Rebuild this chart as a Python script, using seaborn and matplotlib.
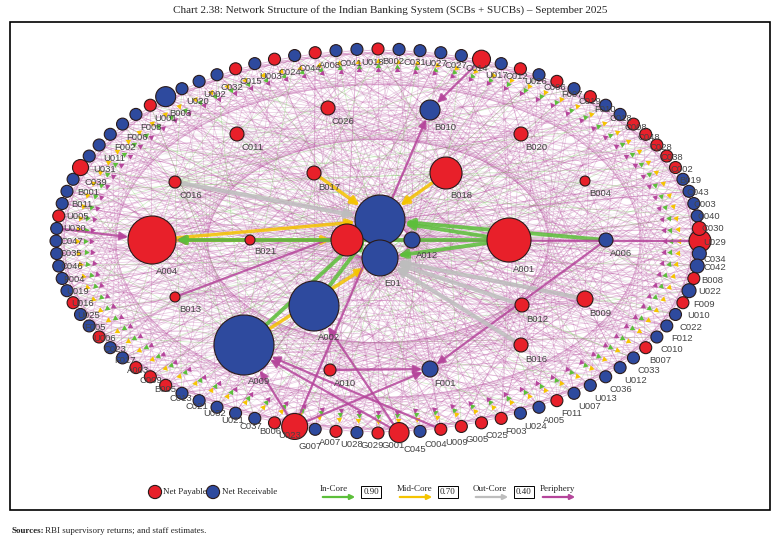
import numpy as np
import pandas as pd
import matplotlib
matplotlib.use("Agg")
import matplotlib.pyplot as plt
from matplotlib.patches import Rectangle, FancyArrowPatch
import seaborn as sns

# ---------------- data ----------------
ring_labels = ["C034","C042","B008","U022","F009","U010","C022","F012","C010","B007","C033","U012",
               "C036","U013","U007","F011","A005","U024","F003","C025","G005","U009","C004","C045",
               "G001","G029","U028","A007","G007","U023","B006","C037","U021","U032","C021","C013",
               "B005","C009","A003","F017","C023","U006","F005","U025","U016","U019","F004","C046",
               "C035","C047","U030","U005","B011","B001","C039","U031","U011","F002","F006","F008",
               "U001","B003","U020","U002","C032","C015","U003","C024","C044","A008","C041","U018",
               "B002","C031","U027","C027","C014","U017","C012","U026","C006","F007","C019","F010",
               "C018","C008","C048","C028","C038","C002","B019","C043","C003","C040","C030","U029"]
ring_type = ["P","R","R","P","R","P","R","R","R","P","R","R",
             "R","R","R","P","R","R","P","P","P","P","R","P",
             "P","R","P","R","P","P","R","R","R","R","R","P",
             "P","P","R","R","P","R","R","P","R","R","R","R",
             "R","R","P","R","R","R","P","R","R","R","R","R",
             "P","R","R","R","R","P","R","P","R","P","R","R",
             "P","R","R","R","R","P","R","P","R","P","R","P",
             "R","R","P","P","P","P","P","R","R","R","R","P"]
ring_size = [11,7,7,6,7,6,6,6,6,6,6,6,6,6,6,6,6,6,6,6,6,6,6,10,
             6,6,6,6,13,6,6,6,6,6,6,6,6,6,6,6,6,6,6,6,6,6,6,6,
             6,6,6,6,6,6,8,6,6,6,6,6,6,10,6,6,6,6,6,6,6,6,6,6,
             6,6,6,6,6,9,6,6,6,6,6,6,6,6,6,6,6,6,6,6,6,6,6,7]

inner_labels = ["A004","B021","C016","C011","C026","B010","B020","B017","B018","B004","A001","A006",
                "S01","S02","E01","A012","B012","B009","B016","A002","A009","B013","A010","F001"]
inner_x = [152,250,175,237,328,430,521,314,446,585,509,606,380,347,380,412,522,585,521,314,244,175,330,430]
inner_y = [240,240,182,134,108,110,134,173,173,181,240,240,220,240,258,240,305,299,345,306,345,297,370,369]
inner_r = [24,5,6,7,7,10,7,7,16,5,22,7,25,16,18,8,7,8,7,25,30,5,6,8]
inner_type = ["P","P","P","P","P","R","P","P","P","P","P","R","R","P","R","R","P","P","P","R","R","P","P","R"]
inner_show = [1,1,1,1,1,1,1,1,1,1,1,1,0,0,1,1,1,1,1,1,1,1,1,1]

# main (thick) edges: source, target, tier
main_edges = [("A001","S01","in"),("A001","E01","in"),("A004","S02","mid"),("A004","S01","mid"),
              ("B018","S01","mid"),("B017","S01","mid"),("A002","S01","in"),("A009","S01","in"),
              ("A009","E01","mid"),("B012","E01","out"),("A006","S01","in"),("B021","A004","mid"),
              ("C034","A004","per"),("G007","A009","per"),("C045","A009","per"),("U009","A009","per"),
              ("G007","B010","per"),("U017","B010","per"),("B009","E01","out"),("A010","F001","per"),
              ("C045","A002","per"),("G007","F001","per"),("A006","F001","per"),("B013","S01","per"),
              ("C016","S01","out"),("A001","A004","in"),("B016","E01","out"),("C047","A004","per")]

tier_color = {"in":"#5cbf3a","mid":"#f5c400","out":"#bdbdbd","per":"#b5459b"}
node_palette = {"P":"#e8202a","R":"#2e4a9e"}

# ---------------- layout ----------------
cx, cy, ea, eb = 378, 241, 322, 192
n = len(ring_labels)
ang = np.arange(n) * 2*np.pi/n
ring_x = cx + ea*np.cos(ang)
ring_y = cy + eb*np.sin(ang)

nodes = pd.DataFrame({
    "label": ring_labels + inner_labels,
    "x": np.concatenate([ring_x, inner_x]),
    "y": np.concatenate([ring_y, inner_y]),
    "r": ring_size[:n] + [ri*1.0 for ri in inner_r],
    "type": ring_type + inner_type,
    "show": [1]*n + inner_show,
})
nodes["s"] = (nodes["r"]*1.44)**2
pos = {l:(x,y) for l,x,y in zip(nodes.label,nodes.x,nodes.y)}
rad = dict(zip(nodes.label,nodes.r))

sns.set_theme(style="white")
plt.rcParams['font.family'] = ['DejaVu Sans']
fig = plt.figure(figsize=(7.81,5.44), dpi=100)
ax = fig.add_axes([0,0,1,1])
ax.set_xlim(0,781); ax.set_ylim(544,0); ax.axis("off")

# background mesh: every node linked to core/inner nodes
tiers = ["per","per","per","per","per","per","out","per","in","per","per","mid"]
inner_xy = list(zip(inner_x, inner_y))
for i,(x,y) in enumerate(zip(ring_x,ring_y)):
    for k,(ix,iy) in enumerate(inner_xy):
        if (i+k) % 4 == 0:
            t = tiers[(i*3+k) % len(tiers)]
            ax.plot([x,ix],[y,iy],color=tier_color[t],lw=0.5,alpha=0.3,zorder=1)
    for j in (7, 19, 31, 45):
        x2, y2 = ring_x[(i+j) % n], ring_y[(i+j) % n]
        ax.plot([x,x2],[y,y2],color=tier_color["per"],lw=0.5,alpha=0.28,zorder=1)
    # arrow heads near ring nodes
    for d,t in ((0.935,"mid"),(0.91,"in"),(0.89,"per")):
        hx, hy = cx+(x-cx)*d, cy+(y-cy)*d
        ax.scatter([hx],[hy],marker=(3,0,np.degrees(ang[i])+90),s=22,color=tier_color[t],zorder=2,lw=0)

for s_,t_,tier in main_edges:
    (x1,y1),(x2,y2) = pos[s_],pos[t_]
    lw = {"in":2.8,"mid":2.4,"out":3.0,"per":1.6}[tier]
    a = FancyArrowPatch((x1,y1),(x2,y2),arrowstyle="-|>",mutation_scale=12,lw=lw,
                        color=tier_color[tier],alpha=0.85,shrinkA=rad[s_]*0.72,shrinkB=rad[t_]*0.72,zorder=3)
    ax.add_patch(a)

sns.scatterplot(data=nodes,x="x",y="y",hue="type",size="s",sizes=(nodes.s.min(),nodes.s.max()),
                size_norm=(nodes.s.min(),nodes.s.max()),palette=node_palette,edgecolor="#2a1a1a",
                linewidth=0.8,legend=False,ax=ax,zorder=5)
for l,x,y,r,sh in zip(nodes.label,nodes.x,nodes.y,nodes.r,nodes.show):
    if not sh: continue
    ax.text(x+4, y+r+7, l, fontsize=6.8, color="#444444", ha="left",
            va="center", zorder=6, family="Liberation Sans")

# frame, title, legend
ax.add_patch(Rectangle((10,22),760,488,fill=False,lw=1.2,color="black",zorder=7))
ax.text(390,10,"Chart 2.38: Network Structure of the Indian Banking System (SCBs + SUCBs) – September 2025",
        ha="center",va="center",fontsize=8,family="Liberation Serif")
ax.text(12,531,"Sources:",fontsize=6.5,weight="bold",family="Liberation Serif",va="center")
ax.text(45,531,"RBI supervisory returns; and staff estimates.",fontsize=6.5,family="Liberation Serif",va="center")
ax.scatter([155,213],[492,492],s=[90,90],c=[node_palette["P"],node_palette["R"]],edgecolor="#2a1a1a",lw=0.8,zorder=8)
ax.text(163,492,"Net Payable",fontsize=6.5,va="center",family="Liberation Serif")
ax.text(222,492,"Net Receivable",fontsize=6.5,va="center",family="Liberation Serif")
for x0,lab,t,box in ((320,"In-Core","in","0.90"),(397,"Mid-Core","mid","0.70"),(473,"Out-Core","out","0.40"),(540,"Periphery","per",None)):
    ax.text(x0,489,lab,fontsize=6.5,va="center",family="Liberation Serif")
    ax.add_patch(FancyArrowPatch((x0,497),(x0+38,497),arrowstyle="-|>",mutation_scale=7,lw=1.6,color=tier_color[t],zorder=8))
    if box:
        bx = x0+41
        ax.add_patch(Rectangle((bx,486),20,12,fill=False,lw=0.7,color="black"))
        ax.text(bx+10,492,box,fontsize=6.5,ha="center",va="center",family="Liberation Serif")

fig.savefig("out.png",dpi=100)
